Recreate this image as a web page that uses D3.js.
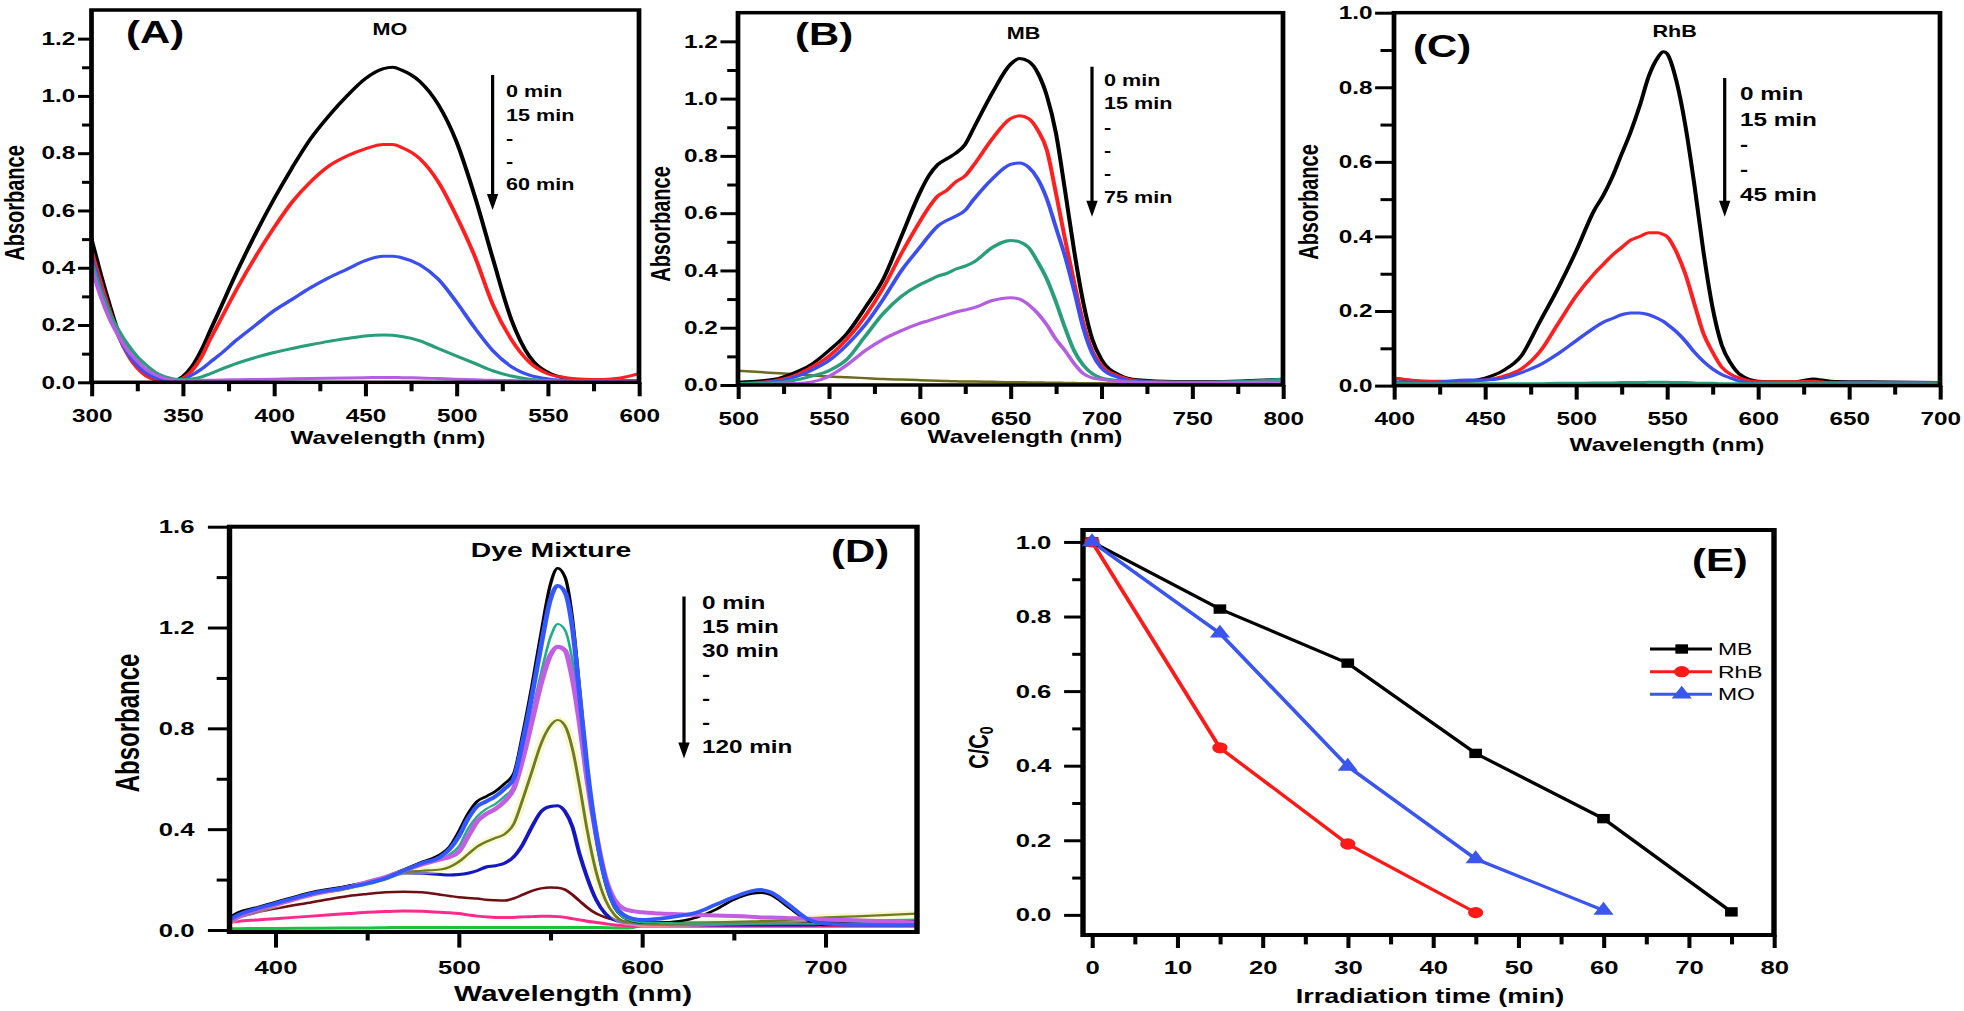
<!DOCTYPE html>
<html>
<head>
<meta charset="utf-8">
<title>Dye degradation spectra</title>
<style>
  body { margin: 0; background: #fff; }
  svg { display: block; font-family: "Liberation Sans", Arial, Helvetica, sans-serif; }
</style>
<script src="https://cdn.jsdelivr.net/npm/d3@7"></script>
</head>
<body>
<script>
// ---------------- data ----------------
// (A) MO spectra
var moWl  = [300,305,310,315,320,325,330,335,340,345,350,355,360,365,370,380,390,400,410,420,430,440,450,460,465,470,480,490,500,510,520,530,540,550,560,570,580,590,600];
var mo0   = [0.50,0.38,0.27,0.17,0.10,0.055,0.025,0.01,0.005,0.006,0.02,0.055,0.11,0.18,0.25,0.39,0.52,0.64,0.75,0.85,0.93,1.00,1.06,1.095,1.10,1.09,1.05,0.97,0.84,0.65,0.43,0.22,0.09,0.035,0.014,0.008,0.006,0.005,0.005];
var mo15  = [0.46,0.35,0.25,0.16,0.095,0.05,0.022,0.009,0.005,0.006,0.014,0.04,0.085,0.15,0.21,0.33,0.44,0.54,0.63,0.70,0.755,0.79,0.815,0.83,0.83,0.82,0.78,0.70,0.58,0.44,0.27,0.15,0.07,0.03,0.016,0.011,0.01,0.015,0.03];
var mo30  = [0.44,0.33,0.24,0.16,0.10,0.06,0.032,0.016,0.008,0.006,0.01,0.025,0.045,0.07,0.095,0.15,0.20,0.25,0.29,0.33,0.365,0.395,0.425,0.44,0.44,0.435,0.41,0.36,0.28,0.19,0.11,0.055,0.025,0.012,0.007,0.005,0.005,0.005,0.005];
var mo45  = [0.42,0.32,0.24,0.18,0.13,0.09,0.06,0.035,0.02,0.012,0.01,0.012,0.018,0.03,0.043,0.067,0.087,0.104,0.118,0.131,0.143,0.153,0.162,0.165,0.164,0.16,0.145,0.118,0.092,0.066,0.04,0.022,0.011,0.006,0.004,0.004,0.004,0.004,0.004];
var mo60  = [0.40,0.30,0.22,0.16,0.11,0.075,0.045,0.026,0.014,0.008,0.006,0.006,0.007,0.007,0.008,0.009,0.01,0.011,0.012,0.013,0.014,0.015,0.016,0.017,0.017,0.016,0.015,0.013,0.011,0.009,0.007,0.006,0.005,0.005,0.004,0.004,0.004,0.004,0.004];
var moLegend = ["0 min", "15 min", "-", "-", "60 min"];

// (B) MB spectra
var mbWl  = [500,520,530,540,550,560,570,580,590,600,605,610,615,620,625,630,640,650,655,660,665,670,675,680,685,690,695,700,710,720,740,760,780,800];
var mb0   = [0.01,0.02,0.04,0.07,0.12,0.18,0.27,0.37,0.52,0.67,0.73,0.77,0.79,0.81,0.84,0.90,1.02,1.12,1.14,1.13,1.09,1.01,0.88,0.68,0.47,0.29,0.16,0.09,0.035,0.018,0.012,0.012,0.015,0.02];
var mb15  = [0.005,0.015,0.03,0.06,0.10,0.16,0.24,0.34,0.46,0.57,0.62,0.66,0.68,0.71,0.73,0.77,0.86,0.93,0.94,0.93,0.89,0.82,0.67,0.51,0.36,0.22,0.12,0.07,0.03,0.015,0.01,0.01,0.012,0.015];
var mb30  = [0.005,0.012,0.025,0.05,0.085,0.14,0.21,0.30,0.40,0.48,0.52,0.555,0.575,0.59,0.61,0.65,0.72,0.77,0.775,0.76,0.72,0.65,0.55,0.45,0.33,0.20,0.11,0.06,0.025,0.012,0.01,0.01,0.012,0.02];
var mb45  = [0.005,0.008,0.015,0.03,0.05,0.09,0.17,0.25,0.31,0.35,0.365,0.38,0.39,0.405,0.415,0.43,0.48,0.505,0.50,0.48,0.43,0.37,0.29,0.20,0.12,0.07,0.04,0.025,0.015,0.01,0.01,0.01,0.012,0.02];
var mb60  = [0,0.003,0.005,0.01,0.03,0.07,0.12,0.16,0.19,0.215,0.225,0.235,0.245,0.255,0.262,0.27,0.295,0.305,0.30,0.28,0.25,0.21,0.16,0.12,0.075,0.04,0.025,0.02,0.012,0.01,0.008,0.008,0.009,0.01];
var mb75  = [0.05,0.042,0.038,0.034,0.03,0.027,0.024,0.021,0.019,0.017,0.016,0.015,0.014,0.013,0.012,0.012,0.011,0.01,0.01,0.009,0.009,0.008,0.008,0.007,0.007,0.006,0.006,0.006,0.005,0.005,0.005,0.005,0.005,0.005];
var mbLegend = ["0 min", "15 min", "-", "-", "-", "75 min"];

// (C) RhB spectra
var rhbWl = [400,420,440,450,460,470,480,490,500,510,515,520,525,530,535,540,545,548,550,555,560,565,570,575,580,585,590,600,620,630,640,660,700];
var rhb0  = [0.02,0.01,0.012,0.02,0.04,0.08,0.17,0.26,0.36,0.47,0.51,0.56,0.62,0.68,0.75,0.83,0.88,0.895,0.89,0.82,0.70,0.54,0.36,0.21,0.11,0.06,0.03,0.012,0.01,0.018,0.012,0.01,0.008];
var rhb15 = [0.02,0.012,0.012,0.015,0.025,0.045,0.09,0.165,0.24,0.30,0.325,0.35,0.37,0.39,0.40,0.41,0.41,0.405,0.40,0.36,0.30,0.22,0.14,0.09,0.05,0.03,0.02,0.01,0.01,0.012,0.008,0.008,0.008];
var rhb30 = [0.01,0.008,0.015,0.015,0.02,0.035,0.055,0.085,0.12,0.155,0.17,0.18,0.19,0.195,0.195,0.19,0.18,0.172,0.165,0.145,0.12,0.09,0.065,0.045,0.03,0.02,0.012,0.006,0.005,0.005,0.005,0.005,0.005];
var rhb45 = [0.006,0.005,0.005,0.005,0.005,0.005,0.005,0.006,0.006,0.007,0.007,0.007,0.008,0.008,0.008,0.009,0.009,0.009,0.009,0.008,0.008,0.007,0.006,0.006,0.005,0.005,0.005,0.005,0.005,0.005,0.005,0.005,0.005];
var rhbLegend = ["0 min", "15 min", "-", "-", "45 min"];

// (D) dye mixture spectra
var mixWl  = [375,380,390,400,420,440,450,460,470,480,490,495,500,505,510,515,520,525,530,535,540,545,550,554,558,562,566,570,575,580,585,590,595,600,610,620,630,640,650,660,665,670,680,690,700,720,750];
var mix0   = [0.05,0.07,0.09,0.11,0.15,0.175,0.19,0.21,0.24,0.27,0.30,0.33,0.39,0.46,0.51,0.53,0.55,0.58,0.62,0.78,0.97,1.18,1.37,1.435,1.40,1.24,0.95,0.65,0.37,0.19,0.09,0.05,0.035,0.03,0.03,0.035,0.05,0.08,0.12,0.145,0.148,0.14,0.09,0.04,0.02,0.02,0.02];
var mix15  = [0.04,0.06,0.085,0.105,0.145,0.17,0.185,0.205,0.235,0.265,0.29,0.32,0.37,0.44,0.49,0.51,0.53,0.56,0.60,0.75,0.93,1.13,1.31,1.366,1.34,1.20,0.93,0.65,0.38,0.20,0.10,0.06,0.045,0.04,0.045,0.055,0.07,0.10,0.13,0.155,0.159,0.15,0.10,0.045,0.025,0.02,0.02];
var mix30  = [0.04,0.06,0.08,0.10,0.14,0.165,0.18,0.20,0.23,0.26,0.28,0.30,0.33,0.40,0.45,0.48,0.50,0.53,0.57,0.70,0.86,1.02,1.16,1.214,1.19,1.07,0.85,0.60,0.36,0.19,0.09,0.05,0.035,0.03,0.028,0.027,0.026,0.025,0.025,0.025,0.025,0.025,0.025,0.025,0.025,0.027,0.03];
var mix45  = [0.035,0.055,0.08,0.10,0.14,0.17,0.19,0.21,0.235,0.26,0.28,0.29,0.31,0.37,0.43,0.46,0.48,0.51,0.56,0.68,0.83,0.98,1.09,1.124,1.11,1.00,0.82,0.60,0.38,0.21,0.12,0.085,0.075,0.07,0.065,0.062,0.06,0.057,0.055,0.052,0.05,0.05,0.047,0.045,0.042,0.038,0.03];
var mix60  = [0.035,0.055,0.08,0.10,0.14,0.165,0.185,0.205,0.23,0.235,0.24,0.25,0.27,0.30,0.33,0.35,0.365,0.38,0.42,0.52,0.63,0.74,0.81,0.833,0.81,0.72,0.57,0.40,0.23,0.12,0.06,0.035,0.03,0.025,0.025,0.025,0.027,0.03,0.032,0.034,0.035,0.036,0.04,0.045,0.05,0.055,0.065];
var mix75  = [0.03,0.05,0.075,0.10,0.14,0.175,0.19,0.205,0.225,0.225,0.22,0.218,0.22,0.225,0.235,0.25,0.255,0.265,0.29,0.34,0.41,0.47,0.49,0.493,0.47,0.41,0.30,0.21,0.12,0.065,0.04,0.03,0.027,0.025,0.022,0.02,0.02,0.02,0.02,0.02,0.02,0.02,0.02,0.02,0.022,0.025,0.03];
var mix90  = [0.04,0.05,0.07,0.085,0.11,0.135,0.143,0.15,0.152,0.15,0.14,0.135,0.13,0.127,0.125,0.12,0.118,0.117,0.125,0.14,0.155,0.165,0.169,0.168,0.16,0.14,0.115,0.09,0.065,0.05,0.04,0.035,0.033,0.03,0.03,0.03,0.03,0.03,0.03,0.03,0.03,0.03,0.03,0.03,0.03,0.032,0.035];
var mix105 = [0.03,0.035,0.04,0.045,0.055,0.065,0.07,0.073,0.075,0.074,0.07,0.068,0.065,0.06,0.055,0.052,0.05,0.05,0.05,0.052,0.053,0.054,0.054,0.053,0.05,0.045,0.04,0.035,0.03,0.025,0.02,0.018,0.016,0.015,0.015,0.015,0.015,0.015,0.015,0.015,0.015,0.015,0.015,0.015,0.015,0.015,0.015];
var mix120 = [0.005,0.005,0.006,0.006,0.007,0.008,0.008,0.009,0.01,0.01,0.01,0.01,0.01,0.01,0.01,0.01,0.01,0.01,0.01,0.01,0.01,0.01,0.01,0.01,0.01,0.01,0.01,0.01,0.01,0.009,0.008,0.008,0.01,0.018,0.022,0.024,0.025,0.026,0.027,0.028,0.028,0.029,0.03,0.032,0.034,0.036,0.04];
var mixLegend = ["0 min", "15 min", "30 min", "-", "-", "-", "120 min"];

// (E) C/C0 vs irradiation time
var mbTime   = [0, 15, 30, 45, 60, 75];
var mbRatio  = [1.0, 0.82, 0.675, 0.433, 0.258, 0.008];
var rhbTime  = [0, 15, 30, 45];
var rhbRatio = [1.0, 0.448, 0.19, 0.006];
var moTime   = [0, 15, 30, 45, 60];
var moRatio  = [1.0, 0.755, 0.398, 0.15, 0.012];
var kineticNames = ["MB", "RhB", "MO"];

// ---------------- drawing ----------------
// the published figure is stretched sideways, so draw in a narrower space and stretch it
var S = 1.35;
var W = 1964, H = 1011;
function X(v) { return v / S; }

var svg = d3.select("body").append("svg")
  .attr("width", W)
  .attr("height", H)
  .attr("viewBox", "0 0 " + (W / S) + " " + H)
  .attr("preserveAspectRatio", "none");

var f1 = d3.format(".1f");
var fInt = d3.format("d");

function addText(g, str, xr, yc, size, o) {
  o = o || {};
  var t = g.append("text")
    .attr("x", X(xr)).attr("y", yc).attr("dy", "0.36em")
    .attr("font-size", size)
    .attr("font-weight", o.weight || "bold")
    .attr("text-anchor", o.anchor || "start")
    .attr("fill", "#000")
    .text(str);
  if (o.rotate) t.attr("transform", "rotate(-90," + X(xr) + "," + yc + ")");
  return t;
}

function arrow(g, xr, y1, y2) {
  var ax = X(xr);
  g.append("line")
    .attr("x1", ax).attr("x2", ax).attr("y1", y1).attr("y2", y2 - 12)
    .attr("stroke", "#000").attr("stroke-width", 2.4);
  g.append("path")
    .attr("d", "M" + (ax - 4.2) + "," + (y2 - 16) + "L" + (ax + 4.2) + "," + (y2 - 16) + "L" + ax + "," + y2 + "Z")
    .attr("fill", "#000");
}

function legendLines(g, lines, xr, y0, step, size) {
  lines.forEach(function(s, i) { addText(g, s, xr, y0 + i * step, size); });
}

function drawPanel(p) {
  var g = svg.append("g");
  var x = d3.scaleLinear().domain(p.xDomain).range([X(p.left), X(p.right)]);
  var y = d3.scaleLinear().domain(p.yDomain).range([p.bottom, p.top]);

  function styleAxis(sel) {
    sel.attr("font-family", null).attr("font-size", null);
    sel.select(".domain").remove();
    sel.selectAll(".tick line").attr("stroke", "#000").attr("stroke-width", 3);
    sel.selectAll(".tick text").attr("fill", "#000")
      .attr("font-size", p.tickFont).attr("font-weight", "bold");
  }

  g.append("g").attr("transform", "translate(0," + p.bottom + ")")
    .call(d3.axisBottom(x).tickValues(p.xMinor).tickSize(p.xMinorLen).tickFormat(""))
    .call(styleAxis);
  g.append("g").attr("transform", "translate(0," + p.bottom + ")")
    .call(d3.axisBottom(x).tickValues(p.xTicks).tickSize(p.xTickLen).tickPadding(p.xPad).tickFormat(p.xFormat))
    .call(styleAxis);
  g.append("g").attr("transform", "translate(" + X(p.left) + ",0)")
    .call(d3.axisLeft(y).tickValues(p.yMinor).tickSize(p.yMinorLen).tickFormat(""))
    .call(styleAxis);
  g.append("g").attr("transform", "translate(" + X(p.left) + ",0)")
    .call(d3.axisLeft(y).tickValues(p.yTicks).tickSize(p.yTickLen).tickPadding(p.yPad).tickFormat(p.yFormat))
    .call(styleAxis);

  if (p.series) {
    var line = d3.line()
      .x(function(d) { return x(d[0]); })
      .y(function(d) { return y(d[1]); })
      .curve(d3.curveMonotoneX);
    p.series.forEach(function(s) {
      var pts = p.wl.map(function(w, i) { return [w, s.values[i]]; });
      if (s.halo) {
        g.append("path").attr("d", line(pts)).attr("fill", "none")
          .attr("stroke", s.halo).attr("stroke-width", 7).attr("stroke-opacity", 0.45);
      }
      g.append("path").attr("d", line(pts)).attr("fill", "none")
        .attr("stroke", s.color).attr("stroke-width", s.width || 3)
        .attr("stroke-linejoin", "round").attr("stroke-linecap", "round");
    });
  }

  g.append("rect")
    .attr("x", X(p.left)).attr("y", p.top)
    .attr("width", X(p.right) - X(p.left)).attr("height", p.bottom - p.top)
    .attr("fill", "none").attr("stroke", "#000").attr("stroke-width", p.frameW);

  return { g: g, x: x, y: y };
}

var BLACK = "#000000", RED = "#ff1f1f", BLUE = "#3c4ef0", TEAL = "#2a9e7a", VIOLET = "#b45fe0";

// ---- (A) MO ----
var pA = drawPanel({
  left: 91.5, right: 639, top: 10, bottom: 382.3,
  xDomain: [300, 600], yDomain: [0, 1.3],
  xTicks: d3.range(300, 601, 50), xMinor: d3.range(325, 600, 50),
  yTicks: [0, 0.2, 0.4, 0.6, 0.8, 1.0, 1.2], yMinor: [0.1, 0.3, 0.5, 0.7, 0.9, 1.1],
  xTickLen: 14, xMinorLen: 9, yTickLen: 10, yMinorLen: 7, xPad: 13, yPad: 2,
  xFormat: fInt, yFormat: f1, tickFont: 18, frameW: 3.5,
  wl: moWl,
  series: [
    { values: mo0, color: BLACK }, { values: mo15, color: RED }, { values: mo30, color: BLUE },
    { values: mo45, color: TEAL }, { values: mo60, color: VIOLET }
  ]
});
addText(pA.g, "(A)", 126, 32, 31);
addText(pA.g, "MO", 390, 29, 16, { anchor: "middle" });
arrow(pA.g, 492.6, 75, 210);
legendLines(pA.g, moLegend, 506, 91.5, 23.3, 16);
addText(pA.g, "Absorbance", 14, 203, 20, { anchor: "middle", rotate: true });
addText(pA.g, "Wavelength (nm)", 388, 438, 18, { anchor: "middle" });

// ---- (B) MB ----
var pB = drawPanel({
  left: 738, right: 1283, top: 12.7, bottom: 385,
  xDomain: [500, 800], yDomain: [0, 1.3],
  xTicks: d3.range(500, 801, 50), xMinor: d3.range(525, 800, 50),
  yTicks: [0, 0.2, 0.4, 0.6, 0.8, 1.0, 1.2], yMinor: [0.1, 0.3, 0.5, 0.7, 0.9, 1.1],
  xTickLen: 14, xMinorLen: 9, yTickLen: 13, yMinorLen: 8, xPad: 13, yPad: 2,
  xFormat: fInt, yFormat: f1, tickFont: 18, frameW: 3.5,
  wl: mbWl,
  series: [
    { values: mb75, color: "#6b6a1e", width: 2.5 },
    { values: mb0, color: BLACK }, { values: mb15, color: RED }, { values: mb30, color: BLUE },
    { values: mb45, color: TEAL }, { values: mb60, color: VIOLET }
  ]
});
addText(pB.g, "(B)", 795, 34, 31);
addText(pB.g, "MB", 1023.5, 33, 16, { anchor: "middle" });
arrow(pB.g, 1092, 66.7, 216.7);
legendLines(pB.g, mbLegend, 1104, 80.3, 23.3, 16);
addText(pB.g, "Absorbance", 660.4, 224, 20, { anchor: "middle", rotate: true });
addText(pB.g, "Wavelength (nm)", 1025, 437, 18, { anchor: "middle" });

// ---- (C) RhB ----
var pC = drawPanel({
  left: 1394, right: 1940, top: 12.7, bottom: 385.6,
  xDomain: [400, 700], yDomain: [0, 1.0],
  xTicks: d3.range(400, 701, 50), xMinor: d3.range(425, 700, 50),
  yTicks: [0, 0.2, 0.4, 0.6, 0.8, 1.0], yMinor: [0.1, 0.3, 0.5, 0.7, 0.9],
  xTickLen: 14, xMinorLen: 9, yTickLen: 14, yMinorLen: 10, xPad: 13, yPad: 2,
  xFormat: fInt, yFormat: f1, tickFont: 18, frameW: 3.5,
  wl: rhbWl,
  series: [
    { values: rhb0, color: BLACK }, { values: rhb15, color: RED }, { values: rhb30, color: BLUE },
    { values: rhb45, color: TEAL }
  ]
});
addText(pC.g, "(C)", 1413, 45.5, 31);
addText(pC.g, "RhB", 1674.6, 31, 16, { anchor: "middle" });
arrow(pC.g, 1724.7, 78, 216.7);
legendLines(pC.g, rhbLegend, 1740, 94, 25.25, 18);
addText(pC.g, "Absorbance", 1308, 202, 20, { anchor: "middle", rotate: true });
addText(pC.g, "Wavelength (nm)", 1667, 445, 18, { anchor: "middle" });

// ---- (D) dye mixture ----
var pD = drawPanel({
  left: 229.5, right: 917, top: 526.7, bottom: 932,
  xDomain: [375, 750], yDomain: [-0.008, 1.6],
  xTicks: [400, 500, 600, 700], xMinor: [450, 550, 650],
  yTicks: [0, 0.4, 0.8, 1.2, 1.6], yMinor: [0.2, 0.6, 1.0, 1.4],
  xTickLen: 15.6, xMinorLen: 8.5, yTickLen: 16, yMinorLen: 9.5, xPad: 12.5, yPad: 10,
  xFormat: fInt, yFormat: f1, tickFont: 19, frameW: 4,
  wl: mixWl,
  series: [
    { values: mix120, color: "#19c23f", width: 3 },
    { values: mix105, color: "#ff2a8c", width: 3 },
    { values: mix90, color: "#6e0f14", width: 2.5 },
    { values: mix75, color: "#1616c4", width: 3 },
    { values: mix60, color: "#6f7c1c", width: 2.2, halo: "#f2eea0" },
    { values: mix0, color: BLACK, width: 2.5 },
    { values: mix30, color: "#1fae8c", width: 2 },
    { values: mix45, color: "#c25ee2", width: 4 },
    { values: mix15, color: "#3358ff", width: 3.6 }
  ]
});
addText(pD.g, "(D)", 831, 551, 31);
addText(pD.g, "Dye Mixture", 551, 549, 21, { anchor: "middle" });
arrow(pD.g, 684, 596.5, 758.6);
legendLines(pD.g, mixLegend, 702, 602.8, 23.9, 18);
addText(pD.g, "Absorbance", 127, 723, 24, { anchor: "middle", rotate: true });
addText(pD.g, "Wavelength (nm)", 573, 993, 22, { anchor: "middle" });

// ---- (E) kinetics ----
var pE = drawPanel({
  left: 1083, right: 1774, top: 530, bottom: 935,
  xDomain: [-1.06, 80], yDomain: [-0.054, 1.032],
  xTicks: d3.range(0, 81, 10), xMinor: d3.range(5, 80, 10),
  yTicks: [0, 0.2, 0.4, 0.6, 0.8, 1.0], yMinor: [0.1, 0.3, 0.5, 0.7, 0.9],
  xTickLen: 13, xMinorLen: 9.4, yTickLen: 14, yMinorLen: 8, xPad: 13, yPad: 9.5,
  xFormat: fInt, yFormat: f1, tickFont: 19, frameW: 4
});

var kinetic = [
  { name: kineticNames[0], t: mbTime, v: mbRatio, color: BLACK, symbol: d3.symbolSquare, size: 88 },
  { name: kineticNames[1], t: rhbTime, v: rhbRatio, color: "#ff1a1a", symbol: d3.symbolCircle, size: 100 },
  { name: kineticNames[2], t: moTime, v: moRatio, color: "#3a55f0", symbol: d3.symbolTriangle, size: 96 }
];
var kLine = d3.line()
  .x(function(d) { return pE.x(d[0]); })
  .y(function(d) { return pE.y(d[1]); });

kinetic.forEach(function(k) {
  var pts = k.t.map(function(t, i) { return [t, k.v[i]]; });
  pE.g.append("path").attr("d", kLine(pts)).attr("fill", "none")
    .attr("stroke", k.color).attr("stroke-width", 3);
});
kinetic.forEach(function(k) {
  var sym = d3.symbol().type(k.symbol).size(k.size);
  pE.g.selectAll(null).data(k.t.map(function(t, i) { return [t, k.v[i]]; }))
    .enter().append("path")
    .attr("d", sym)
    .attr("transform", function(d) { return "translate(" + pE.x(d[0]) + "," + pE.y(d[1]) + ")"; })
    .attr("fill", k.color);
});

// legend of (E)
var legY = [649, 671.7, 694.3];
kinetic.forEach(function(k, i) {
  pE.g.append("line")
    .attr("x1", X(1650)).attr("x2", X(1712)).attr("y1", legY[i]).attr("y2", legY[i])
    .attr("stroke", k.color).attr("stroke-width", 3);
  pE.g.append("path")
    .attr("d", d3.symbol().type(k.symbol).size(k.size))
    .attr("transform", "translate(" + X(1681.7) + "," + legY[i] + ")")
    .attr("fill", k.color);
  addText(pE.g, k.name, 1718, legY[i], 17, { weight: "normal" });
});

addText(pE.g, "(E)", 1692, 559.5, 31);
addText(pE.g, "Irradiation time (min)", 1430, 996, 20, { anchor: "middle" });
var cc = addText(pE.g, "C/C", 978, 747.6, 20, { anchor: "middle", rotate: true });
cc.append("tspan").attr("font-size", 14).attr("dy", "0.3em").text("0");
</script>
</body>
</html>
